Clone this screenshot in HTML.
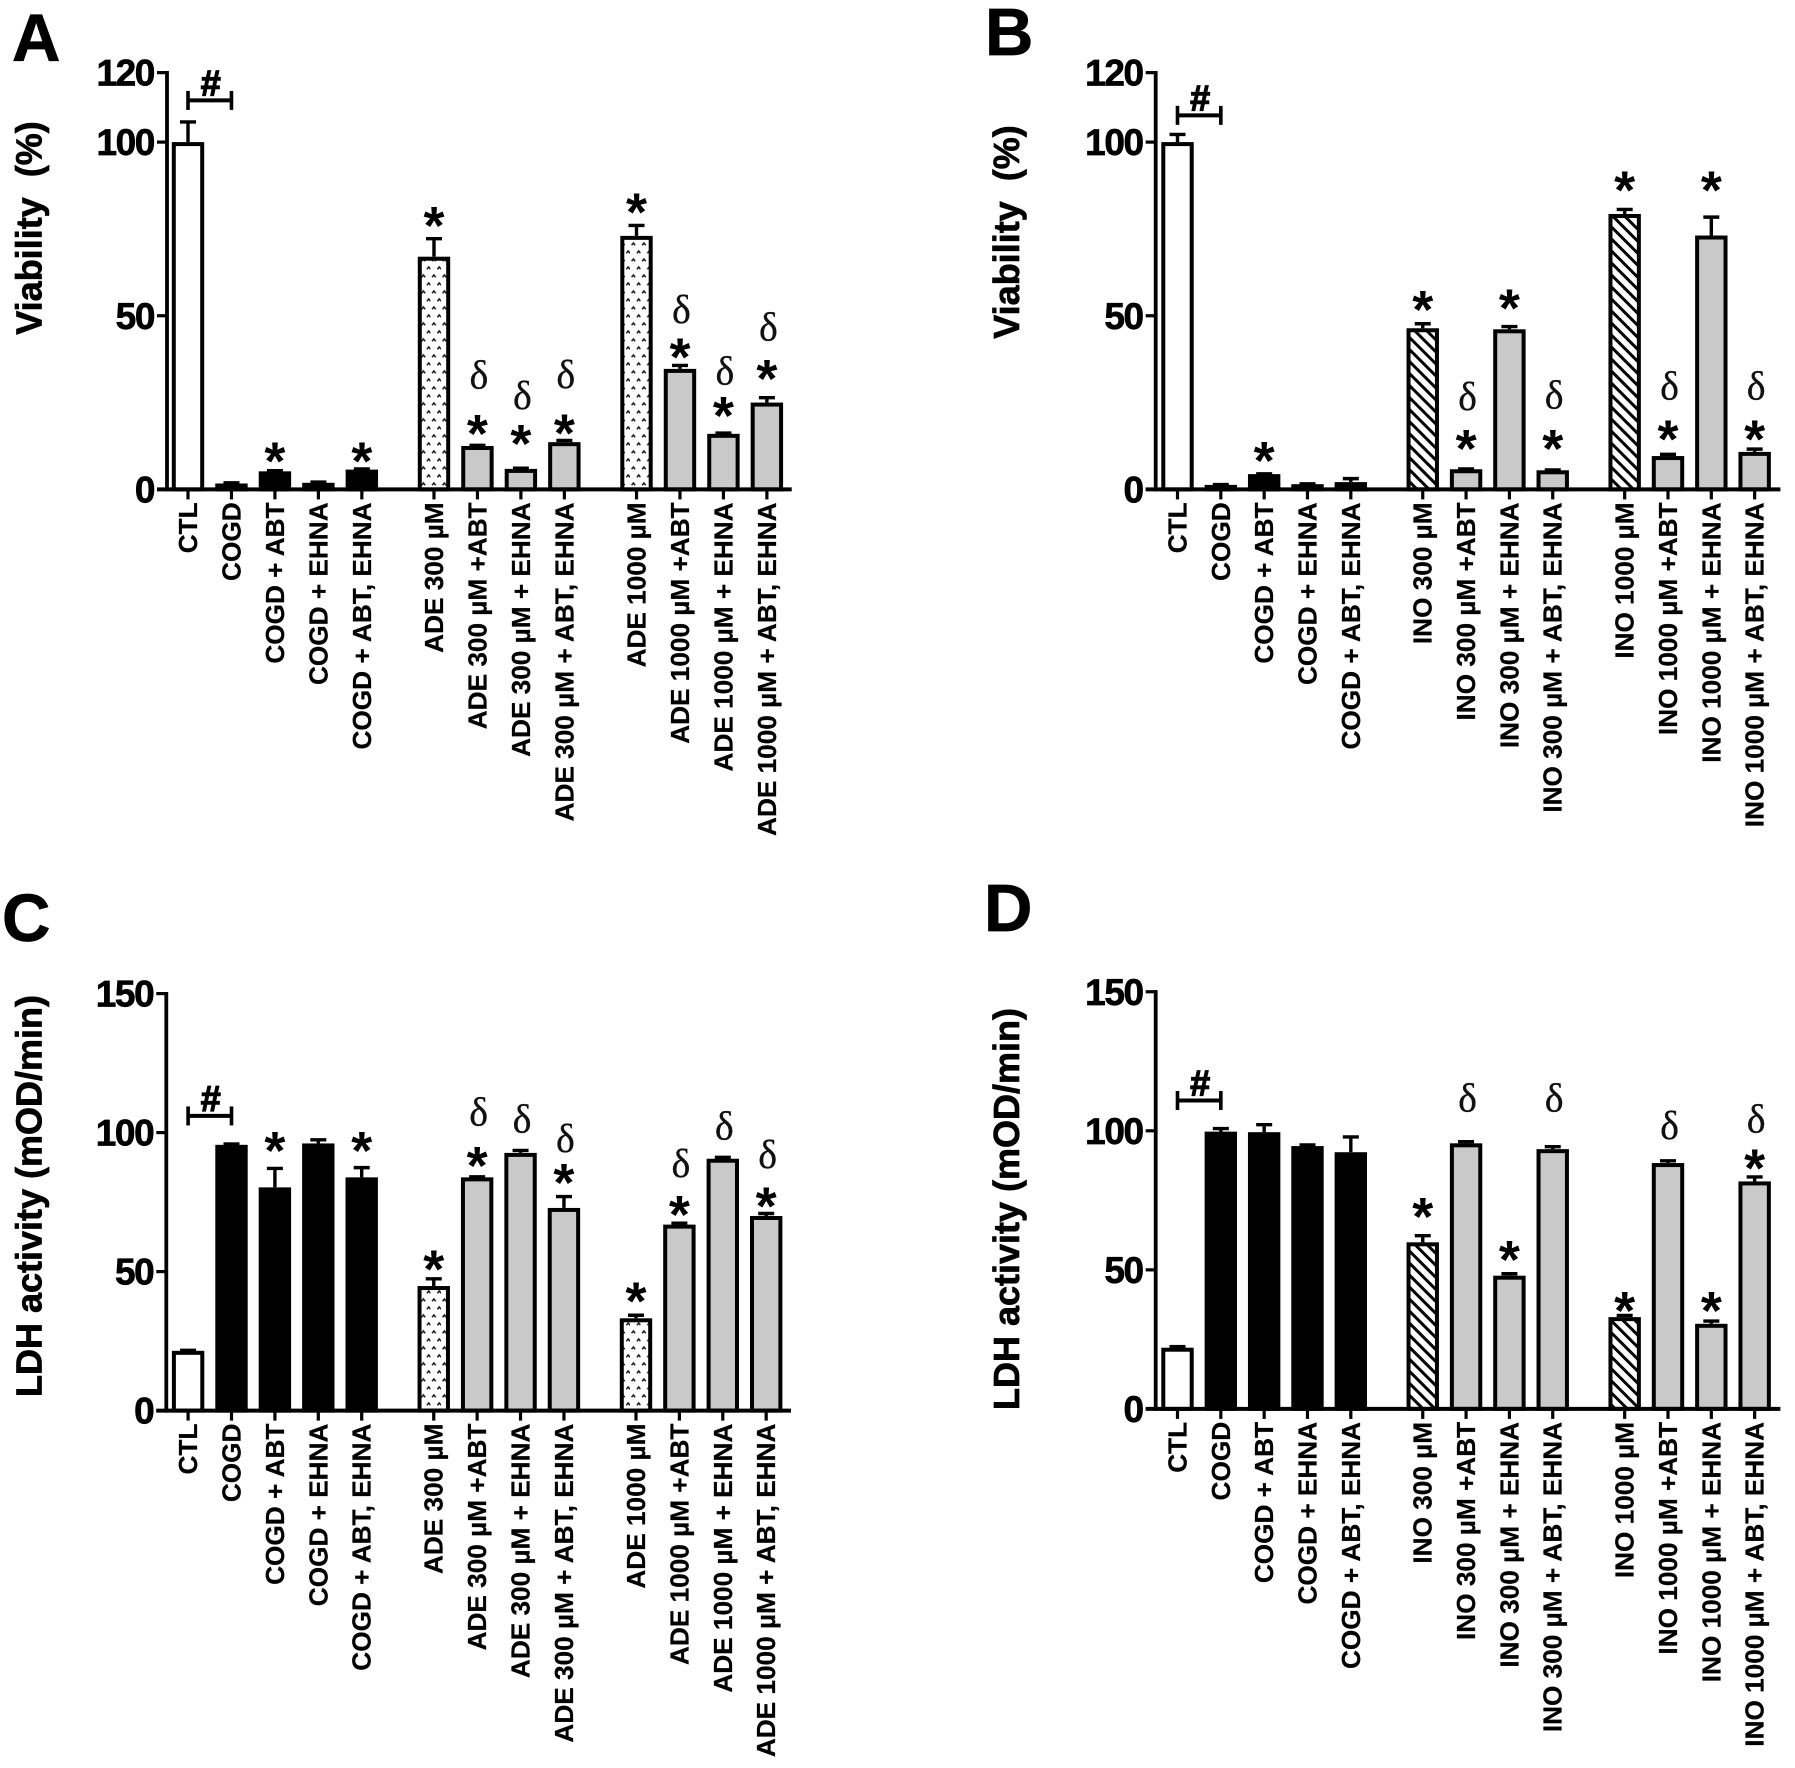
<!DOCTYPE html>
<html lang="en">
<head>
<meta charset="utf-8">
<title>Viability and LDH activity panels</title>
<style>
html,body{margin:0;padding:0;background:#fff;width:1795px;height:1768px;overflow:hidden}
svg{display:block}
text{font-family:"Liberation Sans",sans-serif;fill:#000}
.b{font-weight:bold}
.h{stroke:#000;stroke-width:.7px}
.m{stroke:#000;stroke-width:.25px}
.d{font-family:"Liberation Serif",serif;text-anchor:middle;fill:#111;stroke:#111;stroke-width:.3px}
</style>
</head>
<body>
<svg id="fig" xmlns="http://www.w3.org/2000/svg" width="1795" height="1768" viewBox="0 0 1795 1768">
<defs>
<pattern id="dots" patternUnits="userSpaceOnUse" width="10.5" height="16">
<path d="M1.6 5.2 L3.4 3 L5.2 5.2 M6.9 13.2 L8.7 11 L10.5 13.2" fill="none" stroke="#222" stroke-width="1.6"/>
</pattern>
<pattern id="hatch" patternUnits="userSpaceOnUse" width="8.5" height="8.5" patternTransform="rotate(-45)">
<rect x="0" y="0" width="3" height="8.5" fill="#000"/>
</pattern>
</defs>
</svg>
<script>
var labelsA = ["CTL","COGD","COGD + ABT","COGD + EHNA","COGD + ABT, EHNA","ADE 300 µM","ADE 300 µM +ABT","ADE 300 µM + EHNA","ADE 300 µM + ABT, EHNA","ADE 1000 µM","ADE 1000 µM +ABT","ADE 1000 µM + EHNA","ADE 1000 µM + ABT, EHNA"];
var labelsB = ["CTL","COGD","COGD + ABT","COGD + EHNA","COGD + ABT, EHNA","INO 300 µM","INO 300 µM +ABT","INO 300 µM + EHNA","INO 300 µM + ABT, EHNA","INO 1000 µM","INO 1000 µM +ABT","INO 1000 µM + EHNA","INO 1000 µM + ABT, EHNA"];
var groups = [0,0,0,0,0,1,1,1,1,2,2,2,2];

var valuesA = [100,1.7,5.2,1.9,5.7,67,12.5,5.9,13.6,73,34.7,16,25];
var errorsA = [5.8,0.2,0.2,0.2,0.2,5.2,0.2,0.2,0.5,3,1,0.2,1.4];
var starGapA = [null,null,5.5,null,5,6.5,6.2,9.8,4.9,6.6,5.2,7.8,8.3];
var deltaGapA = [null,null,null,null,null,null,20.1,20.8,18.9,null,15.9,17.8,20.2];
var fillsA = ["white","black","black","black","black","dots","grey","grey","grey","dots","grey","grey","grey"];

var valuesB = [100,1.3,4.4,1.5,2.1,46.4,5.8,46.1,5.5,79.3,9.6,73.1,10.8];
var errorsB = [2.2,0.1,0.1,0.1,1,1.3,0.1,0.8,0.1,1.3,0.5,5.3,0.8];
var starGapB = [null,null,6.6,null,null,6.9,8.6,8,8.9,8.4,7.2,10.6,5.7];
var deltaGapB = [null,null,null,null,null,null,20.7,null,21.5,null,19.6,null,18.1];
var fillsB = ["white","black","black","black","black","hatch","grey","grey","grey","hatch","grey","grey","grey"];

var valuesC = [21.5,95.6,80.3,96.1,83.9,44.8,83.9,92.7,72.9,33.2,66.9,90.6,70];
var errorsC = [0.2,0.3,6.8,1.3,3.5,2.6,0.2,0.9,4.1,1.1,0.5,0.5,0.9];
var starGapC = [null,null,9.9,null,9.6,6.9,7.5,null,8.4,8.6,6.6,null,6.1];
var deltaGapC = [null,null,null,null,null,null,23.2,11.2,20.7,null,21.3,11.1,21];
var fillsC = fillsA;

var valuesD = [22,99.7,99.5,94.5,92.3,59.9,95.5,47.9,93.4,33,88.4,30.6,81.8];
var errorsD = [0.4,1.1,2.7,0.4,5.5,2.4,0.6,0.7,0.9,0.6,0.8,1,1.6];
var starGapD = [null,null,null,null,null,10.3,null,8.6,null,5.2,null,7.2,6.6];
var deltaGapD = [null,null,null,null,null,null,15.6,null,17.4,null,12.5,null,20.6];
var fillsD = fillsB;

var ticksViability = [0,50,100,120];
var ticksLDH = [0,50,100,150];

var svg = document.getElementById('fig');
var NS = 'http://www.w3.org/2000/svg';

function node(tag, parent) {
  var el = document.createElementNS(NS, tag);
  parent.appendChild(el);
  return el;
}
function line(parent, x1, y1, x2, y2, w) {
  var el = node('line', parent);
  el.setAttribute('x1', x1);
  el.setAttribute('y1', y1);
  el.setAttribute('x2', x2);
  el.setAttribute('y2', y2);
  el.setAttribute('stroke', '#000');
  el.setAttribute('stroke-width', w);
  return el;
}
function text(parent, str, x, y, size, anchor, cls) {
  var el = node('text', parent);
  el.textContent = str;
  el.setAttribute('x', x);
  el.setAttribute('y', y);
  el.setAttribute('font-size', size);
  el.setAttribute('text-anchor', anchor);
  el.setAttribute('class', cls);
  return el;
}
var fillMap = {white:'#fff', black:'#000', grey:'#c9c9c9', dots:'url(#dots)', hatch:'url(#hatch)'};

function drawPanel(p) {
  var g = node('g', svg);
  
  

  function yScale(v) { return p.y0 - v * p.unit; }
  function xScale(i) { return p.x0 + p.step * (i + 0.66 * groups[i]); }

  var letter = text(g, p.letter, p.letterX, p.letterY, 67, 'start', 'b h');
  
  

  var title = text(g, p.title, 0, 0, 36, 'middle', 'b h');
  title.setAttribute('transform', 'translate(' + p.titleX + ',' + p.titleY + ') rotate(-90)');
  title.setAttribute('xml:space', 'preserve');
  title.style.whiteSpace = 'pre';
  
  

  p.values.forEach(function (v, i) {
    var cx = xScale(i);
    var top = yScale(v);
    var kind = p.fills[i];
    var gb = node('g', g);
    
    

    var ev = v + p.errors[i];
    var err = line(gb, cx, top, cx, yScale(ev), 3.4);
    
    
    var cap = line(gb, cx - 8, yScale(ev), cx + 8, yScale(ev), 3.4);
    
    

    if (kind === 'dots' || kind === 'hatch') {
      var under = node('rect', gb);
      under.setAttribute('x', cx - 14.2);
      under.setAttribute('y', top + 2);
      under.setAttribute('width', 28.4);
      under.setAttribute('height', Math.max(0, p.y0 - top - 2));
      under.setAttribute('fill', '#fff');
      
      
    }
    var bar = node('rect', gb);
    bar.setAttribute('x', cx - 14.2);
    bar.setAttribute('y', top + 2);
    bar.setAttribute('width', 28.4);
    bar.setAttribute('height', Math.max(0, p.y0 - top - 2));
    bar.setAttribute('fill', fillMap[kind]);
    bar.setAttribute('stroke', '#000');
    bar.setAttribute('stroke-width', 4);
    
    

    var tick = line(gb, cx, p.y0, cx, p.y0 + 10, 3.2);
    
    

    var lab = text(gb, p.labels[i], 0, 0, 26.2, 'end', 'b m');
    lab.setAttribute('transform', 'translate(' + (cx + 9) + ',' + (p.y0 + 13) + ') rotate(-90)');
    
    

    if (p.starGap[i] !== null) {
      var star = text(gb, '*', cx, yScale(ev + p.starGap[i]) + 28, 54, 'middle', 'b');
      
      
    }
    if (p.deltaGap[i] !== null) {
      var delta = text(gb, 'δ', cx + 1.5, yScale(ev + p.deltaGap[i]) + 13, 40, 'middle', 'd');
      
      
    }
  });

  var yAxis = line(g, p.axisX, yScale(p.ticks[p.ticks.length - 1]) - 1.6, p.axisX, p.y0 + 2, 3.8);
  
  
  var xAxis = line(g, p.axisX - 10, p.y0, p.axisEnd, p.y0, 4);
  
  

  p.ticks.forEach(function (t) {
    var ty = yScale(t);
    var tk = line(g, p.axisX - 10, ty, p.axisX, ty, 3.2);
    
    
    var tl = text(g, String(t), p.axisX - 13, ty + 13, 37, 'end', 'b h');
    tl.setAttribute('letter-spacing', '-1.4');
    
    
  });

  var by = yScale(p.bracket);
  var bg = node('g', g);
  
  
  var b1 = line(bg, xScale(0), by, xScale(1), by, 4);
  
  
  var b2 = line(bg, xScale(0), by - 9.5, xScale(0), by + 9.5, 3.6);
  
  
  var b3 = line(bg, xScale(1), by - 9.5, xScale(1), by + 9.5, 3.6);
  
  
  var hash = text(bg, '#', (xScale(0) + xScale(1)) / 2 + 1, by - 5, 36, 'middle', 'b');
  hash.setAttribute('stroke', '#000');
  hash.setAttribute('stroke-width', '1.2');
  
  
}

drawPanel({letter:'A', letterX:12, letterY:61, title:'Viability  (%)', titleX:41.5, titleY:228,
  axisX:167, axisEnd:791.7, x0:188, step:43.46, y0:489.4, unit:3.473, ticks:ticksViability, bracket:112,
  labels:labelsA, values:valuesA, errors:errorsA, starGap:starGapA, deltaGap:deltaGapA, fills:fillsA});
drawPanel({letter:'B', letterX:985, letterY:55, title:'Viability  (%)', titleX:1019, titleY:232,
  axisX:1155.7, axisEnd:1780.4, x0:1177.5, step:43.33, y0:489.4, unit:3.473, ticks:ticksViability, bracket:107.7,
  labels:labelsB, values:valuesB, errors:errorsB, starGap:starGapB, deltaGap:deltaGapB, fills:fillsB});
drawPanel({letter:'C', letterX:2, letterY:941, title:'LDH activity (mOD/min)', titleX:41.5, titleY:1196,
  axisX:166.3, axisEnd:791, x0:188.1, step:43.4, y0:1410.6, unit:2.78, ticks:ticksLDH, bracket:106,
  labels:labelsA, values:valuesC, errors:errorsC, starGap:starGapC, deltaGap:deltaGapC, fills:fillsC});
drawPanel({letter:'D', letterX:984, letterY:931, title:'LDH activity (mOD/min)', titleX:1019, titleY:1209,
  axisX:1155.7, axisEnd:1780.4, x0:1177.5, step:43.33, y0:1408.9, unit:2.781, ticks:ticksLDH, bracket:110.9,
  labels:labelsB, values:valuesD, errors:errorsD, starGap:starGapD, deltaGap:deltaGapD, fills:fillsD});
</script>
</body>
</html>
